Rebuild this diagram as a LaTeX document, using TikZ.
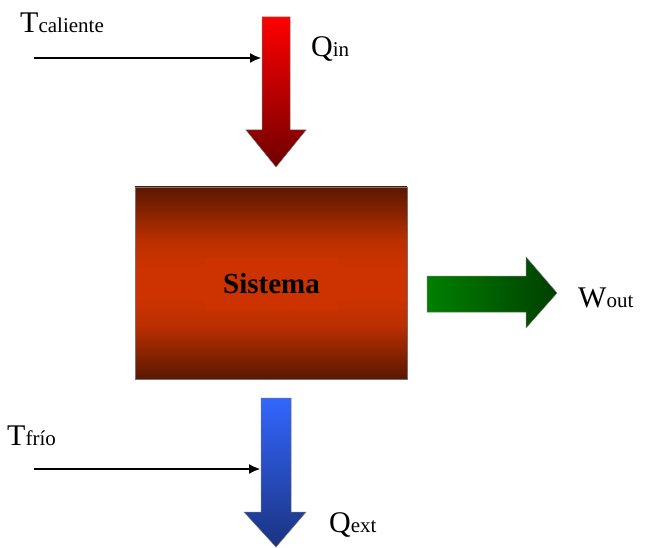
\documentclass[tikz,border=0pt]{standalone}
\usepackage{fontspec}
\setmainfont{Liberation Serif}
\usetikzlibrary{arrows.meta}

\definecolor{hotTop}{HTML}{FF0000}
\definecolor{hotBot}{HTML}{700000}
\definecolor{sysDark}{HTML}{5A1800}
\definecolor{sysMid}{HTML}{CC3300}
\definecolor{workL}{HTML}{008000}
\definecolor{workR}{HTML}{003F00}
\definecolor{coldTop}{HTML}{3366FF}
\definecolor{coldBot}{HTML}{1A3380}

% dark at the edges, flat orange band in the middle
\pgfdeclareverticalshading{sysband}{100bp}{
  color(0bp)=(sysDark); color(25bp)=(sysDark);
  color(39bp)=(sysMid!85!sysDark); color(46bp)=(sysMid);
  color(54bp)=(sysMid); color(61bp)=(sysMid!85!sysDark);
  color(75bp)=(sysDark); color(100bp)=(sysDark)}

\tikzset{
  big/.style={font=\fontsize{30}{31}\selectfont},
  lbl/.style={big, anchor=base west, inner sep=0pt},
  feed/.style={line width=1.2pt, -{Latex[length=11pt,width=10pt]}},
  blk/.style={draw=black!55, line width=0.5pt}
}
\newcommand{\sub}[1]{{\fontsize{21}{22}\selectfont #1}}

\begin{document}
\begin{tikzpicture}[x=1pt,y=-1pt]
\useasboundingbox (0,0) rectangle (645,548);
% heat coming in
\shade[blk, top color=hotTop, bottom color=hotBot]
  (262,17) -- (290,17) -- (290,130) -- (306,130) -- (276,167)
  -- (246,130) -- (262,130) -- cycle;
% the system block
\shade[blk, shading=sysband] (135,187) rectangle (407,379);
\node[fill=sysMid, minimum width=133, minimum height=52, inner sep=0pt]
  (sys) at (271.5,284) {\fontsize{29}{30}\selectfont\bfseries Sistema};
% work out
\shade[blk, left color=workL, right color=workR]
  (427,276) -- (526,276) -- (526,257) -- (557,293) -- (526,328)
  -- (526,312) -- (427,312) -- cycle;
% heat going out
\shade[blk, top color=coldTop, bottom color=coldBot]
  (261,398) -- (291,398) -- (291,512) -- (306,512) -- (276,547)
  -- (244,512) -- (261,512) -- cycle;

% reservoirs
\coordinate (hot) at (34,58);
\coordinate (qinL) at (261,58);
\coordinate (cold) at (34,469);
\coordinate (qextL) at (260,469);
\draw[feed] (hot) -- (qinL);
\draw[feed] (cold) -- (qextL);

\node[lbl] (tc) at (20,33) {T\sub{caliente}};
\node[lbl] (qin) at (311,57) {Q\sub{in}};
\node[lbl] (tf) at (7,445) {T\sub{frío}};
\node[lbl] (qext) at (329,532) {Q\sub{ext}};
\node[lbl] (wout) at (578,307) {W\sub{out}};
\end{tikzpicture}
\end{document}
